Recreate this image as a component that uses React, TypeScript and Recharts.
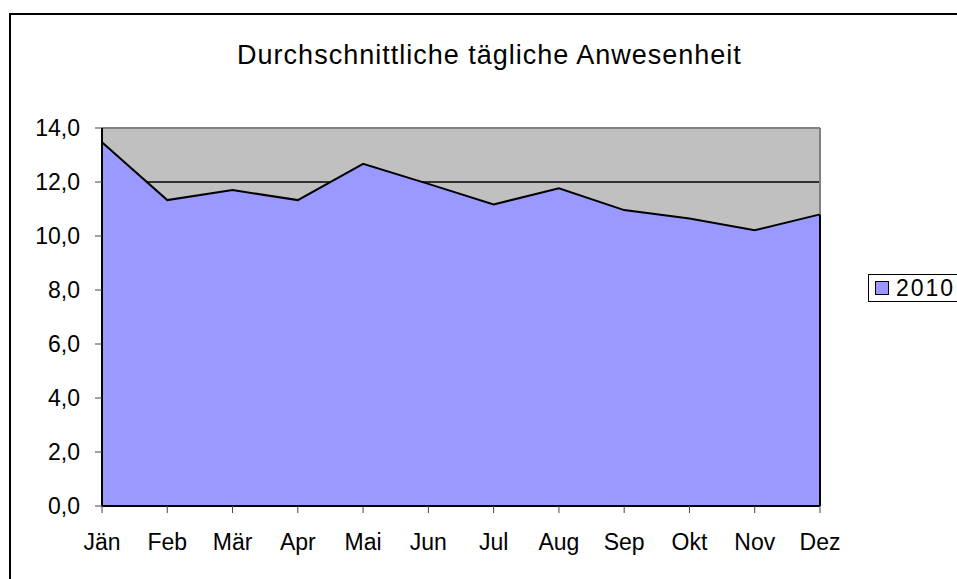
import { Area, AreaChart, CartesianGrid, ReferenceLine, XAxis, YAxis } from "recharts";

const months = ["Jän", "Feb", "Mär", "Apr", "Mai", "Jun", "Jul", "Aug", "Sep", "Okt", "Nov", "Dez"];
const attendance2010 = [13.47, 11.33, 11.7, 11.33, 12.67, 11.93, 11.17, 11.77, 10.96, 10.65, 10.21, 10.8];
const yTicks = [0, 2, 4, 6, 8, 10, 12, 14];
const seriesName = "2010";
const title = "Durchschnittliche tägliche Anwesenheit";

const data = months.map((month, i) => ({ month, value: attendance2010[i] }));
const lastMonth = months[months.length - 1];
const lastValue = attendance2010[attendance2010.length - 1];
const yMax = yTicks[yTicks.length - 1];

const font = "'Liberation Sans', Arial, sans-serif";
const tickStyle = { fontSize: 23, fill: "#000", fontFamily: font };

export default function App() {
  return (
    <div style={{ position: "absolute", left: 0, top: 0, width: 957, height: 579, overflow: "hidden", background: "#fff" }}>
      <div
        style={{
          position: "absolute",
          left: 9,
          top: 13,
          width: 1000,
          height: 620,
          border: "2px solid #000",
        }}
      />
      <div
        style={{
          position: "absolute",
          left: 0,
          width: 979,
          top: 42,
          textAlign: "center",
          fontFamily: font,
          fontSize: 27,
          letterSpacing: 1,
          lineHeight: "27px",
          color: "#000",
        }}
      >
        {title}
      </div>
      <div style={{ position: "absolute", left: 0, top: 0 }}>
        <AreaChart width={957} height={579} data={data} margin={{ top: 128, right: 137, left: 42, bottom: 43 }}>
          <CartesianGrid
            vertical={false}
            horizontalValues={yTicks.slice(0, -1)}
            stroke="#000"
            strokeWidth={1.5}
            fill="#c0c0c0"
            fillOpacity={1}
          />
          <XAxis
            dataKey="month"
            height={30}
            tickSize={7}
            tickMargin={21}
            axisLine={{ stroke: "#000", strokeWidth: 2 }}
            tickLine={{ stroke: "#444" }}
            tick={tickStyle}
            interval={0}
          />
          <YAxis
            width={60}
            domain={[0, yMax]}
            ticks={yTicks}
            tickSize={7}
            tickMargin={15}
            axisLine={{ stroke: "#000", strokeWidth: 2 }}
            tickLine={{ stroke: "#444" }}
            tick={tickStyle}
            tickFormatter={(v: number) => v.toFixed(1).replace(".", ",")}
          />
          <Area
            type="linear"
            dataKey="value"
            name={seriesName}
            stroke="#000"
            strokeWidth={2}
            fill="#9999ff"
            fillOpacity={1}
            dot={false}
            activeDot={false}
            isAnimationActive={false}
          />
          <ReferenceLine y={yMax} stroke="#808080" strokeWidth={2} />
          <ReferenceLine
            segment={[
              { x: lastMonth, y: lastValue },
              { x: lastMonth, y: yMax },
            ]}
            stroke="#808080"
            strokeWidth={2}
          />
          <ReferenceLine
            segment={[
              { x: lastMonth, y: 0 },
              { x: lastMonth, y: lastValue },
            ]}
            stroke="#000"
            strokeWidth={2}
          />
        </AreaChart>
      </div>
      <div
        style={{
          position: "absolute",
          left: 868,
          top: 274,
          width: 120,
          height: 26,
          border: "1px solid #000",
          background: "#fff",
          display: "flex",
          alignItems: "center",
          fontFamily: font,
          fontSize: 23,
          letterSpacing: 2,
          color: "#000",
        }}
      >
        <span
          style={{
            display: "inline-block",
            width: 12,
            height: 12,
            marginLeft: 6,
            marginRight: 7,
            background: "#9999ff",
            border: "1px solid #000",
          }}
        />
        <span>{seriesName}</span>
      </div>
    </div>
  );
}
